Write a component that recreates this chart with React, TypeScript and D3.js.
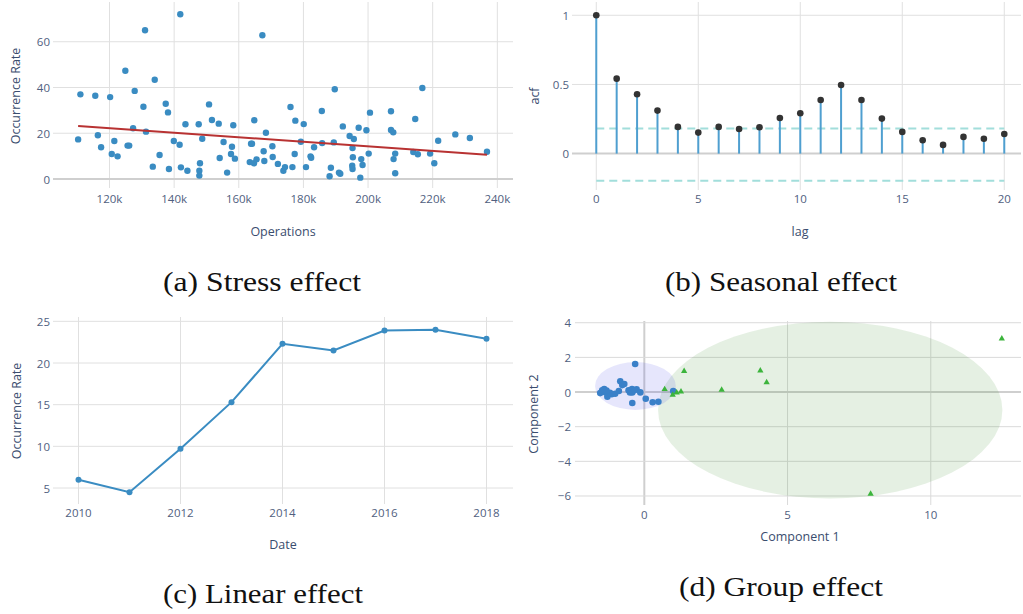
import React from 'react';
import * as d3 from 'd3';

// ---------- (a) Stress effect ----------
const stressOps = [
  141.9, 131.0, 124.9, 134.0, 111.0, 115.6, 120.2, 127.8, 130.5, 137.4, 138.1, 150.8, 143.5, 147.6,
  127.3, 131.3, 110.3, 116.4, 117.4, 121.5, 125.6, 126.1, 120.7, 122.5, 135.5, 139.9, 141.7, 148.7,
  133.4, 138.4, 142.1, 144.1, 148.0, 147.8, 147.8,
  167.3, 151.7, 153.8, 158.3, 164.8, 155.3, 157.9, 154.1, 157.6, 158.8, 156.4, 163.8, 164.1, 168.4,
  163.4, 164.7, 165.5, 167.7, 167.9, 170.4, 170.5, 172.1, 173.8, 174.3, 176.6, 176.0, 177.5, 177.3,
  180.1, 179.2, 180.8, 183.3, 182.2, 182.4, 185.7, 185.8, 189.7, 189.4, 192.2, 188.5, 188.1, 191.0,
  191.4, 194.3,
  195.6, 195.2, 195.3, 195.1, 195.2, 197.1, 197.9, 198.3, 197.6, 199.5, 200.2, 200.6, 207.1, 207.1,
  207.8, 207.9, 208.4, 208.4, 214.6, 216.8, 214.0, 215.4, 219.2, 220.5, 221.7, 227.0, 231.5, 236.8,
];
const stressRate = [
  72.0, 65.0, 47.3, 43.4, 37.0, 36.4, 35.8, 38.5, 31.6, 32.9, 29.1, 32.6, 23.9, 23.9,
  22.2, 20.7, 17.3, 19.1, 13.9, 16.6, 14.6, 14.6, 10.9, 9.9, 10.5, 16.6, 15.0, 17.6,
  5.4, 4.4, 5.1, 3.6, 6.9, 3.6, 1.5,
  62.8, 25.8, 24.2, 23.5, 25.7, 16.2, 14.1, 9.2, 10.9, 8.9, 2.8, 15.4, 15.4, 20.2,
  7.4, 6.9, 8.6, 12.1, 7.9, 14.3, 9.6, 6.6, 3.6, 5.2, 5.2, 31.5, 25.5, 10.9,
  24.0, 16.3, 5.2, 13.9, 9.9, 9.3, 29.7, 15.7, 39.2, 16.0, 23.0, 4.9, 1.2, 2.8,
  2.3, 18.8,
  17.5, 13.5, 9.5, 5.8, 4.4, 22.4, 8.7, 6.1, 0.6, 21.3, 11.1, 29.0, 29.6, 21.4,
  20.4, 8.7, 11.1, 2.5, 26.2, 39.8, 11.8, 10.8, 11.1, 6.9, 16.7, 19.5, 17.9, 11.9,
];
const trendOps = [110.3, 236.8];
const trendRate = [23.2, 10.6];
const stressXTicks = [120, 140, 160, 180, 200, 220, 240];
const stressYTicks = [0, 20, 40, 60];

// ---------- (b) Seasonal effect ----------
const acfLags = [0, 1, 2, 3, 4, 5, 6, 7, 8, 9, 10, 11, 12, 13, 14, 15, 16, 17, 18, 19, 20];
const acfValues = [
  1.0, 0.542, 0.429, 0.311, 0.193, 0.152, 0.193, 0.178, 0.191, 0.258, 0.292,
  0.388, 0.496, 0.388, 0.253, 0.157, 0.097, 0.063, 0.121, 0.108, 0.142,
];
const acfBand = [0.182, -0.197];
const acfXTicks = [0, 5, 10, 15, 20];
const acfYTicks = [0, 0.5, 1];

// ---------- (c) Linear effect ----------
const years = [2010, 2011, 2012, 2013, 2014, 2015, 2016, 2017, 2018];
const yearRates = [6.0, 4.5, 9.7, 15.3, 22.3, 21.5, 23.9, 24.0, 22.9];
const yearXTicks = [2010, 2012, 2014, 2016, 2018];
const yearYTicks = [5, 10, 15, 20, 25];

// ---------- (d) Group effect ----------
const groupAx = [
  -1.54, -1.40, -1.35, -1.26, -1.29, -1.14, -1.02, -0.89, -0.84, -0.77, -0.70, -0.50, -0.43, -0.42,
  -0.27, -0.14, -0.32, -0.42, 0.05, 0.29, 0.49, 1.01, -1.47, -1.20, -0.55, -0.35, -1.32,
];
const groupAy = [
  -0.06, 0.17, -0.02, -0.12, -0.27, -0.13, -0.10, 0.06, 0.62, 0.40, 0.46, -0.02, 0.17, -0.02,
  0.16, -0.02, 1.62, -0.63, -0.39, -0.59, -0.56, 0.06, 0.10, -0.05, 0.10, 0.10, 0.08,
];
const groupBx = [0.71, 0.99, 1.13, 1.28, 1.39, 2.70, 4.05, 4.27, 12.48, 7.90];
const groupBy = [0.16, -0.17, -0.04, 0.02, 1.21, 0.12, 1.23, 0.56, 3.08, -5.88];
const ellipseA = [-0.31, 0.35, 1.41, 1.38]; // cx, cy, rx, ry
const ellipseB = [6.49, -1.04, 6.01, 5.1];
const groupXTicks = [0, 5, 10];
const groupYTicks = [-6, -4, -2, 0, 2, 4];

// ---------- captions ----------
const captions = ['(a) Stress effect', '(b) Seasonal effect', '(c) Linear effect', '(d) Group effect'];

// ---------- styles ----------
const TICK_FONT = '"Open Sans", sans-serif';
const TICK_COLOR = '#506080';
const TITLE_COLOR = '#3a4d6e';
const GRID = '#e0e0e0';
const ZERO = '#cfcfcf';
const CAPTION_FONT = '"Liberation Serif", "DejaVu Serif", serif';

type Box = { l: number; r: number; t: number; b: number };

function Frame(props: {
  box: Box;
  x: d3.ScaleLinear<number, number>;
  y: d3.ScaleLinear<number, number>;
  xTicks: number[];
  yTicks: number[];
  xFmt: (v: number) => string;
  yFmt: (v: number) => string;
  xZero?: boolean;
  yZero?: boolean;
  xTickY: number;
  yTickX: number;
  xTitle: string;
  xTitlePos: [number, number];
  yTitle: string;
  yTitlePos: [number, number];
  gridColor?: string;
}) {
  const { box, x, y } = props;
  const g = props.gridColor || GRID;
  return (
    <g>
      {props.xTicks.map((v) => (
        <line key={'gx' + v} x1={x(v)} x2={x(v)} y1={box.t} y2={box.b}
          stroke={props.xZero && v === 0 ? ZERO : g} strokeWidth={props.xZero && v === 0 ? 2 : 1} />
      ))}
      {props.yTicks.map((v) => (
        <line key={'gy' + v} x1={box.l} x2={box.r} y1={y(v)} y2={y(v)}
          stroke={props.yZero && v === 0 ? ZERO : g} strokeWidth={props.yZero && v === 0 ? 2 : 1} />
      ))}
      {props.xTicks.map((v) => (
        <text key={'tx' + v} x={x(v)} y={props.xTickY} textAnchor="middle" dominantBaseline="central"
          fontFamily={TICK_FONT} fontSize={11.5} fill={TICK_COLOR}>{props.xFmt(v)}</text>
      ))}
      {props.yTicks.map((v) => (
        <text key={'ty' + v} x={props.yTickX} y={y(v)} textAnchor="end" dominantBaseline="central"
          fontFamily={TICK_FONT} fontSize={11.5} fill={TICK_COLOR}>{props.yFmt(v)}</text>
      ))}
      <text x={props.xTitlePos[0]} y={props.xTitlePos[1]} textAnchor="middle" dominantBaseline="central"
        fontFamily={TICK_FONT} fontSize={12.5} fill={TITLE_COLOR}>{props.xTitle}</text>
      <text transform={`translate(${props.yTitlePos[0]},${props.yTitlePos[1]}) rotate(-90)`}
        textAnchor="middle" dominantBaseline="central"
        fontFamily={TICK_FONT} fontSize={12.5} fill={TITLE_COLOR}>{props.yTitle}</text>
    </g>
  );
}

function Caption({ x, y, text, w }: { x: number; y: number; text: string; w: number }) {
  return (
    <text x={x} y={y} textAnchor="middle" fontFamily={CAPTION_FONT} fontSize={26.5} fill="#111"
      textLength={w} lengthAdjust="spacingAndGlyphs">{text}</text>
  );
}

const fmtNum = d3.format('');

export default function App() {
  // (a)
  const boxA: Box = { l: 53, r: 513, t: 2, b: 188 };
  const xA = d3.scaleLinear().domain([102.52, 244.85]).range([boxA.l, boxA.r]);
  const yA = d3.scaleLinear().domain([-3.93, 77.36]).range([boxA.b, boxA.t]);

  // (b)
  const boxB: Box = { l: 572, r: 1021, t: 2, b: 190 };
  const xB = d3.scaleLinear().domain([-1.19, 20.82]).range([boxB.l, boxB.r]);
  const yB = d3.scaleLinear().domain([-0.263, 1.096]).range([boxB.b, boxB.t]);

  // (c)
  const boxC: Box = { l: 53, r: 513, t: 317, b: 504 };
  const xC = d3.scaleLinear().domain([2009.5, 2018.52]).range([boxC.l, boxC.r]);
  const yC = d3.scaleLinear().domain([3.08, 25.52]).range([boxC.b, boxC.t]);
  const lineC = d3.line<number>().x((_, i) => xC(years[i])).y((d) => yC(d));

  // (d)
  const boxD: Box = { l: 575, r: 1021, t: 321, b: 505 };
  const xD = d3.scaleLinear().domain([-2.42, 13.15]).range([boxD.l, boxD.r]);
  const yD = d3.scaleLinear().domain([-6.52, 4.10]).range([boxD.b, boxD.t]);
  const tri = d3.symbol().type(d3.symbolTriangle).size(17)() as string;

  return (
    <svg width={1023} height={614} style={{ position: 'absolute', left: 0, top: 0, background: '#fff' }}>
      <rect x={0} y={0} width={1023} height={614} fill="#fff" />

      {/* (a) */}
      <Frame box={boxA} x={xA} y={yA} xTicks={stressXTicks} yTicks={stressYTicks}
        xFmt={(v) => `${v}k`} yFmt={fmtNum} yZero xTickY={198} yTickX={50}
        xTitle="Operations" xTitlePos={[283, 231]} yTitle="Occurrence Rate" yTitlePos={[15, 96]} />
      {stressOps.map((v, i) => (
        <circle key={'sa' + i} cx={xA(v)} cy={yA(stressRate[i])} r={3.2} fill="#3a8cc2" />
      ))}
      <line x1={xA(trendOps[0])} y1={yA(trendRate[0])} x2={xA(trendOps[1])} y2={yA(trendRate[1])}
        stroke="#b83232" strokeWidth={2} />

      {/* (b) */}
      <Frame box={boxB} x={xB} y={yB} xTicks={acfXTicks} yTicks={acfYTicks}
        xFmt={fmtNum} yFmt={fmtNum} yZero xTickY={198} yTickX={569}
        xTitle="lag" xTitlePos={[800, 231]} yTitle="acf" yTitlePos={[534, 96]} />
      {acfBand.map((v, i) => (
        <line key={'band' + i} x1={xB(acfLags[0])} x2={xB(acfLags[acfLags.length - 1])} y1={yB(v)} y2={yB(v)}
          stroke="#a2dedb" strokeWidth={2} strokeDasharray="8,5" />
      ))}
      {acfLags.map((lag, i) => (
        <line key={'st' + i} x1={xB(lag)} x2={xB(lag)} y1={yB(0)} y2={yB(acfValues[i])}
          stroke="#4f9fd0" strokeWidth={2} />
      ))}
      {acfLags.map((lag, i) => (
        <circle key={'am' + i} cx={xB(lag)} cy={yB(acfValues[i])} r={3.3} fill="#333" />
      ))}

      {/* (c) */}
      <Frame box={boxC} x={xC} y={yC} xTicks={yearXTicks} yTicks={yearYTicks}
        xFmt={fmtNum} yFmt={fmtNum} xTickY={512} yTickX={50}
        xTitle="Date" xTitlePos={[283, 544]} yTitle="Occurrence Rate" yTitlePos={[16.5, 411]} />
      <path d={lineC(yearRates) || ''} fill="none" stroke="#3a8cc2" strokeWidth={2} />
      {years.map((yr, i) => (
        <circle key={'lc' + i} cx={xC(yr)} cy={yC(yearRates[i])} r={3} fill="#3a8cc2" />
      ))}

      {/* (d) */}
      <Frame box={boxD} x={xD} y={yD} xTicks={groupXTicks} yTicks={groupYTicks}
        xFmt={fmtNum} yFmt={fmtNum} xZero yZero xTickY={514} yTickX={571}
        xTitle="Component 1" xTitlePos={[800, 536]} yTitle="Component 2" yTitlePos={[533, 414]}
        gridColor="#dadada" />
      <ellipse cx={xD(ellipseB[0])} cy={yD(ellipseB[1])}
        rx={xD(ellipseB[0] + ellipseB[2]) - xD(ellipseB[0])} ry={yD(ellipseB[1]) - yD(ellipseB[1] + ellipseB[3])}
        fill="rgba(70,150,60,0.14)" />
      <ellipse cx={xD(ellipseA[0])} cy={yD(ellipseA[1])}
        rx={xD(ellipseA[0] + ellipseA[2]) - xD(ellipseA[0])} ry={yD(ellipseA[1]) - yD(ellipseA[1] + ellipseA[3])}
        fill="rgba(60,60,235,0.13)" />
      {groupAx.map((v, i) => (
        <circle key={'ga' + i} cx={xD(v)} cy={yD(groupAy[i])} r={3.3} fill="#3a80c8" />
      ))}
      {groupBx.map((v, i) => (
        <path key={'gb' + i} d={tri} transform={`translate(${xD(v)},${yD(groupBy[i])})`} fill="#3cb43c" />
      ))}

      {/* captions */}
      <Caption x={262} y={291} text={captions[0]} w={198} />
      <Caption x={781} y={291} text={captions[1]} w={232} />
      <Caption x={263} y={603} text={captions[2]} w={200} />
      <Caption x={781} y={596} text={captions[3]} w={204} />
    </svg>
  );
}
